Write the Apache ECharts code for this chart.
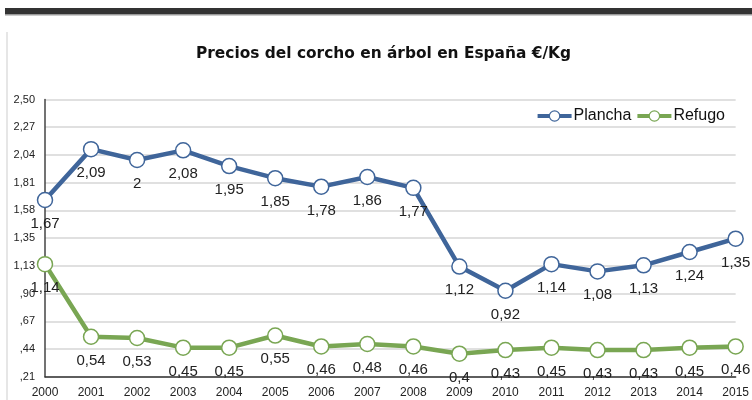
<!DOCTYPE html>
<html>
<head>
<meta charset="utf-8">
<script src="https://cdn.jsdelivr.net/npm/echarts@6/dist/echarts.min.js"></script>
<style>
  html, body { margin: 0; padding: 0; background: #fff; }
  #chart { width: 752px; height: 400px; }
</style>
</head>
<body>
<div id="chart"></div>
<script>
const years = ["2000", "2001", "2002", "2003", "2004", "2005", "2006", "2007",
  "2008", "2009", "2010", "2011", "2012", "2013", "2014", "2015"];
const plancha = [1.67, 2.09, 2, 2.08, 1.95, 1.85, 1.78, 1.86, 1.77, 1.12, 0.92, 1.14, 1.08, 1.13, 1.24, 1.35];
const refugo = [1.14, 0.54, 0.53, 0.45, 0.45, 0.55, 0.46, 0.48, 0.46, 0.4, 0.43, 0.45, 0.43, 0.43, 0.45, 0.46];
const tickValues = [0.21, 0.439, 0.668, 0.897, 1.126, 1.355, 1.584, 1.813, 2.042, 2.271, 2.5];
const tickLabels = [",21", ",44", ",67", ",90", "1,13", "1,35", "1,58", "1,81", "2,04", "2,27", "2,50"];

const blue = "#3f659a";
const green = "#79a653";

const chart = echarts.init(document.getElementById("chart"));

const tickLabel = (v) => {
  let best = 0;
  tickValues.forEach((t, i) => {
    if (Math.abs(t - v) < Math.abs(tickValues[best] - v)) best = i;
  });
  return tickLabels[best];
};

const pointLabel = {
  show: true,
  position: "bottom",
  distance: 8,
  color: "#222",
  fontSize: 15,
  fontFamily: "Liberation Sans",
  formatter: (p) => String(p.value).replace(".", ","),
};

const option = {
  animation: false,
  backgroundColor: "#fff",
  textStyle: { fontFamily: "Liberation Sans" },
  graphic: [
    { type: "rect", shape: { x: 5, y: 8, width: 747, height: 6 }, style: { fill: "#333" } },
    { type: "rect", shape: { x: 5, y: 14, width: 747, height: 1.5 }, style: { fill: "#999" } },
    { type: "rect", shape: { x: 6, y: 32, width: 2, height: 368 }, style: { fill: "#e6e6e6" } },
  ],
  title: {
    text: "Precios del corcho en árbol en España €/Kg",
    left: 191,
    top: 41,
    textStyle: {
      fontFamily: "DejaVu Sans",
      fontWeight: "bold",
      fontSize: 15.4,
      color: "#111",
    },
  },
  legend: {
    right: 22,
    top: 103,
    itemWidth: 34,
    itemHeight: 13,
    itemGap: 4,
    lineStyle: { width: 4 },
    itemStyle: { borderWidth: 1.2 },
    textStyle: { fontSize: 16, color: "#111", padding: [0, 0, 0, -3] },
    data: ["Plancha", "Refugo"],
  },
  grid: { left: 45, right: 14, top: 99.5, bottom: 23.3, containLabel: false },
  xAxis: {
    type: "category",
    data: years,
    boundaryGap: false,
    axisLine: { lineStyle: { color: "#333", width: 1.5 } },
    axisTick: { show: false },
    axisLabel: { color: "#222", fontSize: 12, margin: 10, interval: 0 },
  },
  yAxis: {
    type: "value",
    min: 0.21,
    max: 2.5,
    axisLine: { show: true, lineStyle: { color: "#444", width: 1.5 } },
    axisTick: { show: false, customValues: tickValues },
    axisLabel: {
      color: "#222",
      fontSize: 11,
      margin: 10,
      customValues: tickValues,
      formatter: tickLabel,
    },
    splitLine: { lineStyle: { color: "#d6d6d6", width: 1.5 } },
  },
  series: [
    {
      name: "Plancha",
      type: "line",
      data: plancha,
      color: blue,
      symbol: "circle",
      symbolSize: 15,
      lineStyle: { width: 4.5, color: blue },
      itemStyle: { color: "#fff", borderColor: blue, borderWidth: 1.5 },
      label: pointLabel,
      z: 3,
    },
    {
      name: "Refugo",
      type: "line",
      data: refugo,
      color: green,
      symbol: "circle",
      symbolSize: 15,
      lineStyle: { width: 4.5, color: green },
      itemStyle: { color: "#fff", borderColor: green, borderWidth: 1.5 },
      label: pointLabel,
      z: 2,
    },
  ],
};

chart.setOption(option);
</script>
</body>
</html>
